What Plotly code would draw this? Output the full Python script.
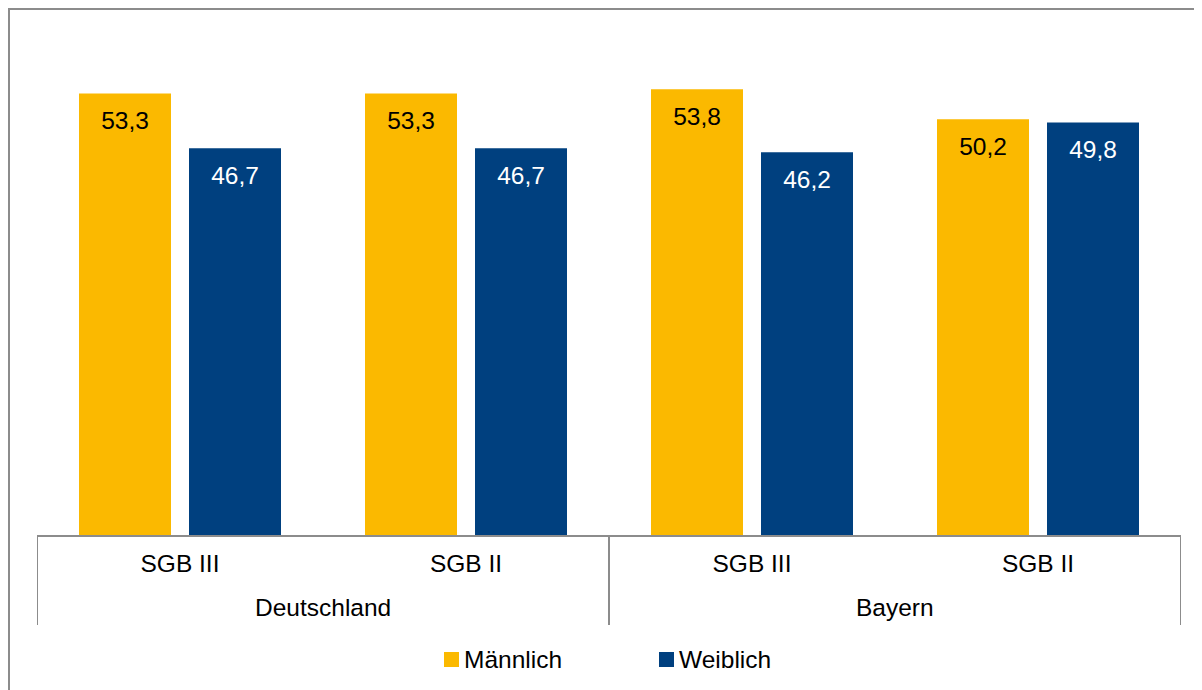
import plotly.graph_objects as go

regions = ["Deutschland", "Deutschland", "Bayern", "Bayern"]
sgb = ["SGB III", "SGB II", "SGB III", "SGB II"]
maennlich = [53.3, 53.3, 53.8, 50.2]
weiblich = [46.7, 46.7, 46.2, 49.8]
series_names = ["Männlich", "Weiblich"]

ORANGE = "#FBB900"
BLUE = "#00407F"
GRAY = "#8c8c8c"
FONT = "Liberation Sans, Arial, sans-serif"
FS = 24.5

def fmt(v):
    return f"{v:.1f}".replace(".", ",")

# page body has an 8px margin; figure extends past the window on right/bottom
W, H = 1202, 690
ML, MR, MT, MB = 29, 29, 30, 163
PW, PH = W - ML - MR, H - MT - MB
AXIS_Y = H - MB  # pixel row of the axis in figure coordinates

def px(xp):
    return (xp - ML) / PW

def py(yp):
    return (AXIS_Y - yp) / PH

idx = list(range(len(sgb)))

fig = go.Figure()
for name, vals, col in [(series_names[0], maennlich, ORANGE), (series_names[1], weiblich, BLUE)]:
    fig.add_trace(go.Bar(
        x=idx, y=vals, name=name, marker=dict(color=col, line=dict(width=0)),
        hoverinfo="skip", showlegend=False,
    ))
for name, vals, tcol in [(series_names[0], maennlich, "black"), (series_names[1], weiblich, "white")]:
    fig.add_trace(go.Scatter(
        x=idx, y=vals, mode="markers+text", text=[fmt(v) for v in vals],
        textposition="bottom center",
        textfont=dict(family=FONT, size=FS, color=tcol),
        marker=dict(size=26, opacity=0),
        showlegend=False, hoverinfo="skip",
    ))

# group (region) labels and dividers derived from the category data
groups = []
for i, r in enumerate(regions):
    if not groups or groups[-1][0] != r:
        groups.append([r, i, i])
    else:
        groups[-1][2] = i

annotations = []
shapes = []
bounds = set()
for r, i0, i1 in groups:
    annotations.append(dict(
        x=(i0 + i1) / 2, xref="x", y=py(599), yref="paper",
        text=r, showarrow=False, xanchor="center", yanchor="middle",
        font=dict(family=FONT, size=FS, color="black"),
    ))
    bounds.add(i0 - 0.5)
    bounds.add(i1 + 0.5)
for b in sorted(bounds):
    shapes.append(dict(
        type="line", xref="x", yref="paper", x0=b, x1=b, y0=0, y1=py(617),
        line=dict(color=GRAY, width=2),
    ))

# legend (custom, Excel-like: square directly before the text)
leg_x = [436, 651]
for (name, col), lx in zip([(series_names[0], ORANGE), (series_names[1], BLUE)], leg_x):
    shapes.append(dict(
        type="rect", xref="paper", yref="paper",
        x0=px(lx), x1=px(lx + 15), y0=py(659), y1=py(644),
        fillcolor=col, line=dict(width=0),
    ))
    annotations.append(dict(
        x=px(lx + 18), xref="paper", y=py(651.5), yref="paper",
        text=name, showarrow=False, xanchor="left", yanchor="middle",
        font=dict(family=FONT, size=FS, color="black"),
    ))

# outer chart border (right and bottom edges lie outside the visible window)
shapes.append(dict(
    type="rect", xref="paper", yref="paper",
    x0=px(1), x1=px(W + 20), y0=py(H + 20), y1=py(1),
    line=dict(color=GRAY, width=2), fillcolor="rgba(0,0,0,0)", layer="below",
))

fig.update_layout(
    width=W, height=H,
    margin=dict(l=ML, r=MR, t=MT, b=MB),
    paper_bgcolor="white", plot_bgcolor="white",
    barmode="group", bargap=0.2308, bargroupgap=0.1636,
    scattermode="group",
    font=dict(family=FONT, size=FS, color="black"),
    xaxis=dict(
        range=[-0.5, len(sgb) - 0.5], tickmode="array", tickvals=idx, ticktext=sgb,
        showline=True, linecolor=GRAY, linewidth=2, showgrid=False, zeroline=False,
        ticks="", ticklabelstandoff=6,
        tickfont=dict(family=FONT, size=FS, color="black"), fixedrange=True,
    ),
    yaxis=dict(range=[0, 60], visible=False, showgrid=False, fixedrange=True),
    showlegend=False,
    annotations=annotations,
    shapes=shapes,
)

fig.write_html("out.html")
